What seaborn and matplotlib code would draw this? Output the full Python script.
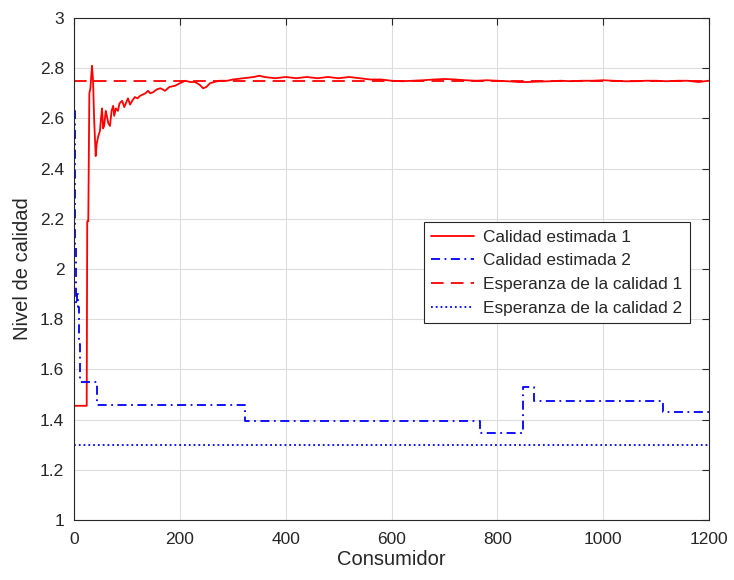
import numpy as np
import pandas as pd
import matplotlib
matplotlib.use("Agg")
import matplotlib.pyplot as plt
import seaborn as sns

# Calidad estimada 1 (lectura aproximada del gráfico)
x_est1 = [0, 24, 25, 27, 29, 31, 34, 36, 38, 41, 43, 46, 49, 51, 53, 55, 57, 60, 62, 65,
          68, 71, 74, 76, 79, 83, 86, 91, 95, 98, 102, 106, 110, 115, 120, 125, 130, 135,
          140, 144, 150, 156, 163, 168, 172, 180, 191, 200, 210, 220, 229, 238, 244, 250,
          257, 265, 275, 290, 300, 320, 340, 350, 360, 380, 400, 420, 440, 460, 480, 500,
          520, 540, 560, 580, 600, 620, 640, 660, 680, 700, 720, 740, 760, 780, 800, 820,
          840, 860, 880, 900, 920, 940, 960, 980, 1000, 1020, 1040, 1060, 1080, 1100,
          1120, 1140, 1160, 1180, 1200]
y_est1 = [1.455, 1.455, 2.19, 2.19, 2.70, 2.72, 2.81, 2.75, 2.60, 2.45, 2.50, 2.53, 2.55,
          2.60, 2.64, 2.56, 2.57, 2.63, 2.61, 2.58, 2.57, 2.63, 2.65, 2.61, 2.64, 2.63,
          2.66, 2.67, 2.645, 2.66, 2.68, 2.655, 2.67, 2.685, 2.68, 2.69, 2.695, 2.70,
          2.71, 2.70, 2.705, 2.715, 2.72, 2.715, 2.71, 2.725, 2.73, 2.74, 2.75, 2.745,
          2.745, 2.733, 2.72, 2.725, 2.74, 2.745, 2.75, 2.75, 2.755, 2.76, 2.765, 2.77,
          2.765, 2.76, 2.765, 2.76, 2.765, 2.76, 2.765, 2.76, 2.765, 2.76, 2.755, 2.755,
          2.75, 2.748, 2.75, 2.752, 2.755, 2.757, 2.755, 2.752, 2.75, 2.752, 2.75, 2.748,
          2.745, 2.745, 2.747, 2.748, 2.75, 2.748, 2.75, 2.75, 2.752, 2.75, 2.748, 2.748,
          2.75, 2.75, 2.748, 2.75, 2.75, 2.745, 2.75]

# Calidad estimada 2 (escalonada)
x_est2 = [0, 1, 2, 3, 4, 6, 8, 10, 12, 43, 323, 767, 849, 870, 1113, 1200]
y_est2 = [2.63, 2.40, 2.10, 1.87, 1.86, 1.90, 1.85, 1.70, 1.55, 1.46, 1.395, 1.345, 1.53,
          1.475, 1.43, 1.43]

x_range = [0, 1200]
esperanza1 = [2.75, 2.75]
esperanza2 = [1.30, 1.30]

sns.set_style("white")
plt.rcParams['font.family'] = ['Liberation Sans', 'DejaVu Sans']

fig = plt.figure(figsize=(7.34, 5.8), dpi=100)
ax = fig.add_axes([74 / 734, 1 - 520 / 580, 635 / 734, 502 / 580])

lw = 1.3
sns.lineplot(x=x_est1, y=y_est1, color='red', lw=lw, ax=ax, label='Calidad estimada 1')
sns.lineplot(x=x_est2, y=y_est2, color='blue', lw=lw, ax=ax, drawstyle='steps-post',
             linestyle=(0, (5, 2.5, 1, 2.5)), label='Calidad estimada 2')
sns.lineplot(x=x_range, y=esperanza1, color='red', lw=lw, ax=ax, linestyle=(0, (7, 4)),
             label='Esperanza de la calidad 1')
sns.lineplot(x=x_range, y=esperanza2, color='blue', lw=lw, ax=ax, linestyle=':',
             label='Esperanza de la calidad 2')

ax.set_xlim(0, 1200)
ax.set_ylim(1, 3)
ax.set_xticks(np.arange(0, 1201, 200))
ax.set_yticks(np.arange(1, 3.01, 0.2))
ax.set_yticklabels(['1', '1.2', '1.4', '1.6', '1.8', '2', '2.2', '2.4', '2.6', '2.8', '3'])
ax.grid(True, color='#dcdcdc', lw=0.8)
ax.tick_params(direction='in', top=True, right=True, length=5, width=0.8,
               labelsize=12.5, colors='#262626', labelcolor='#262626')
ax.tick_params(axis='x', pad=9)
ax.tick_params(axis='y', pad=7)
for s in ax.spines.values():
    s.set_color('#262626')
    s.set_linewidth(0.8)

ax.set_xlabel('Consumidor', fontsize=14.5, color='#262626', labelpad=2)
ax.set_ylabel('Nivel de calidad', fontsize=14.5, color='#262626', labelpad=6)

leg = ax.legend(loc='upper right', bbox_to_anchor=(0.970, 0.594), fontsize=12.4,
                frameon=True, fancybox=False, edgecolor='#262626', framealpha=1,
                borderpad=0.45, labelspacing=0.5, handlelength=2.5, handletextpad=0.5,
                borderaxespad=0)
leg.get_frame().set_linewidth(0.8)

fig.savefig('out.png', dpi=100)
